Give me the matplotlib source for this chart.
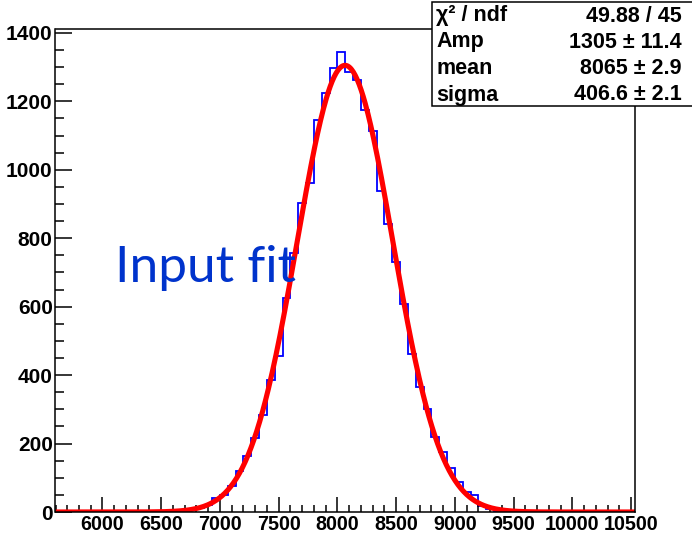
import numpy as np
import matplotlib
matplotlib.use("Agg")
import matplotlib.pyplot as plt
from matplotlib import font_manager as fm
from matplotlib.ticker import MultipleLocator

# histogram: bin width 66.67, edges aligned on 7000
bin_lo = 5600.0
bin_width = 200.0 / 3.0
n_bins = 74
# bin contents, starting at the bin [6600, 6666.7]
first_filled = 15
counts_filled = [2, 5, 8, 12, 20, 40, 50, 76, 121, 164, 215, 284, 386, 456,
                 626, 757, 903, 961, 1144, 1224, 1297, 1344, 1285, 1263, 1175,
                 1112, 939, 841, 729, 607, 461, 364, 300, 220, 176, 128, 89,
                 58, 50, 18, 8, 3, 1]

# fit result from the stats box
fit_amp = 1305
fit_mean = 8065
fit_sigma = 406.6
stats_names = ["χ² / ndf", "Amp", "mean", "sigma"]
stats_values = ["49.88 / 45", "1305 ± 11.4", "8065 ± 2.9", "406.6 ± 2.1"]

edges = bin_lo + bin_width * np.arange(n_bins + 1)
counts = np.zeros(n_bins)
counts[first_filled:first_filled + len(counts_filled)] = counts_filled

# pick the regular-width Liberation Sans Bold (not the Narrow one)
bold_path = None
for f in fm.fontManager.ttflist:
    if f.name == 'Liberation Sans' and f.weight in (700, 'bold') and f.style == 'normal' \
            and 'narrow' not in f.fname.lower():
        bold_path = f.fname
        break
if bold_path:
    bold = fm.FontProperties(fname=bold_path)
else:
    bold = fm.FontProperties(family='DejaVu Sans', weight='bold')

fig = plt.figure(figsize=(6.92, 5.34), dpi=100)
ax = fig.add_axes([55.5 / 692, 22 / 534, (635 - 55.5) / 692, (512 - 29) / 534])

ax.stairs(counts, edges, color='#0000ff', linewidth=1.3)

xf = np.linspace(edges[0], edges[-1], 600)
yf = fit_amp * np.exp(-0.5 * ((xf - fit_mean) / fit_sigma) ** 2)
ax.plot(xf, yf, color='#ff0000', linewidth=3.7, solid_capstyle='butt')

ax.set_xlim(edges[0], edges[-1])
ax.set_ylim(0, 1.05 * max(counts_filled))

ax.xaxis.set_major_locator(MultipleLocator(500))
ax.xaxis.set_minor_locator(MultipleLocator(100))
ax.yaxis.set_major_locator(MultipleLocator(200))
ax.yaxis.set_minor_locator(MultipleLocator(50))
ax.tick_params(axis='x', which='major', direction='in', length=10.8, width=1.1, pad=2)
ax.tick_params(axis='x', which='minor', direction='in', length=5.4, width=1.1)
ax.tick_params(axis='y', which='major', direction='in', length=12.5, width=1.1, pad=2)
ax.tick_params(axis='y', which='minor', direction='in', length=6.3, width=1.1)
fig.canvas.draw()
for lab in ax.get_xticklabels():
    lab.set_fontproperties(bold)
    lab.set_fontsize(14.2)
for lab in ax.get_yticklabels():
    lab.set_fontproperties(bold)
    lab.set_fontsize(15)
for sp in ax.spines.values():
    sp.set_linewidth(1.1)

ax.text(6105, 672, "Input fit", family='Lato', fontsize=37, color='#0033cc',
        ha='left', va='baseline')

# stats box in figure pixels
box = plt.Rectangle((432 / 692, 1 - 106 / 534), 262 / 692, 104 / 534,
                    transform=fig.transFigure, facecolor='white',
                    edgecolor='black', linewidth=1.1)
fig.add_artist(box)
row_y = [16, 42, 68, 95]
for name, val, y in zip(stats_names, stats_values, row_y):
    fig.text(436 / 692, 1 - y / 534, name, fontproperties=bold, fontsize=15.5,
             ha='left', va='center')
    fig.text(682 / 692, 1 - y / 534, val, fontproperties=bold, fontsize=15.5,
             ha='right', va='center')

fig.savefig("out.png", dpi=100)
